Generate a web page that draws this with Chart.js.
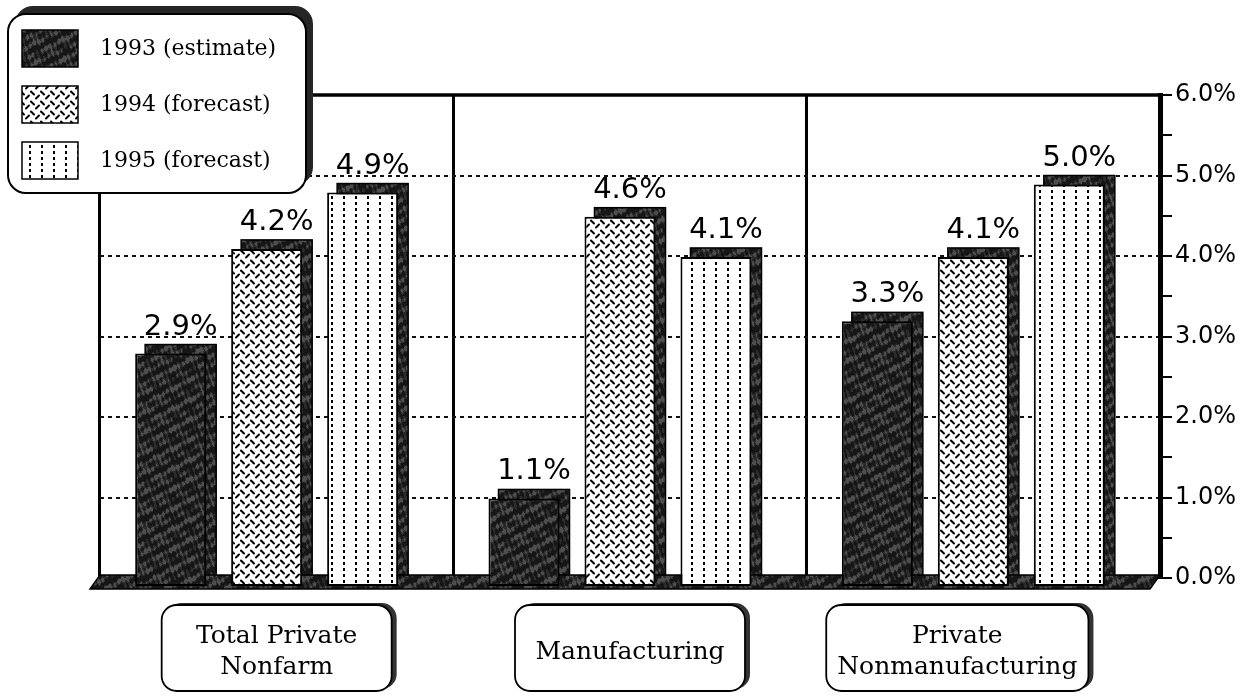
<!DOCTYPE html>
<html><head><meta charset="utf-8">
<script src="https://cdn.jsdelivr.net/npm/chart.js@4.4.1/dist/chart.umd.min.js"></script>
<style>html,body{margin:0;padding:0;background:#fff;overflow:hidden}</style>
</head><body>
<canvas id="c" width="1248" height="696"></canvas>
<script>
// ---- data ----
const categories = [['Total Private', 'Nonfarm'], ['Manufacturing'], ['Private', 'Nonmanufacturing']];
const seriesNames = ['1993 (estimate)', '1994 (forecast)', '1995 (forecast)'];
const values1993 = [2.9, 1.1, 3.3];
const values1994 = [4.2, 4.6, 4.1];
const values1995 = [4.9, 4.1, 5.0];
const yTickValues = [0, 1, 2, 3, 4, 5, 6];

// ---- styles ----
const SERIF = '"DejaVu Serif", "Liberation Serif", serif';
const SANS = '"DejaVu Sans", "Open Sans", sans-serif';
const DEPTH_X = 10, DEPTH_Y = 9;
const LABEL_BOX_SHIFT = [0, 0, -26];

function makeTile(w, h, draw) {
  const c = document.createElement('canvas');
  c.width = w; c.height = h;
  const g = c.getContext('2d');
  draw(g, w, h);
  return document.getElementById('c').getContext('2d').createPattern(c, 'repeat');
}
const darkPattern = makeTile(60, 60, (g, w, h) => {
  const img = g.createImageData(w, h);
  const a = 2 * Math.PI / 60;
  for (let y = 0; y < h; y++) for (let x = 0; x < w; x++) {
    const v = Math.sin(x * a * 2 + 0.6) * Math.cos(y * a * 3 + 0.2)
            + 0.8 * Math.sin((x + 2 * y) * a * 3 + 1.3)
            + 0.6 * Math.sin((3 * x - y) * a * 4 + 2.1)
            + 0.35 * Math.sin((7 * x + 5 * y) * a);
    const c = v > 0.7 ? 78 : (v > -0.2 ? 44 : 22);
    const i = (y * w + x) * 4;
    img.data[i] = img.data[i + 1] = img.data[i + 2] = c; img.data[i + 3] = 255;
  }
  g.putImageData(img, 0, 0);
});
const hatchPattern = makeTile(10, 10, (g, w, h) => {
  g.fillStyle = '#fff'; g.fillRect(0, 0, w, h);
  g.strokeStyle = '#000'; g.lineWidth = 1.9; g.lineCap = 'round';
  g.beginPath(); g.moveTo(1, 1.5); g.lineTo(4, 4.5); g.stroke();
  g.beginPath(); g.moveTo(6, 8.5); g.lineTo(9, 5.5); g.stroke();
});
const dotPattern = makeTile(12, 6, (g, w, h) => {
  g.fillStyle = '#fff'; g.fillRect(0, 0, w, h);
  g.fillStyle = '#000'; g.fillRect(5, 1, 2, 3);
});
const fills = [darkPattern, hatchPattern, dotPattern];

const bar3d = {
  id: 'bar3d',
  beforeDatasetsDraw(chart) {
    const ctx = chart.ctx, a = chart.chartArea;
    ctx.save();
    chart.data.datasets.forEach((ds, di) => {
      chart.getDatasetMeta(di).data.forEach(el => {
        const p = el.getProps(['x', 'y', 'base', 'width'], true);
        ctx.fillStyle = darkPattern;
        ctx.fillRect(p.x - p.width / 2, p.y, p.width, p.base - p.y);
        ctx.strokeStyle = '#000'; ctx.lineWidth = 1.5;
        ctx.strokeRect(p.x - p.width / 2, p.y, p.width, p.base - p.y);
      });
    });
    // floor
    ctx.fillStyle = darkPattern;
    ctx.beginPath();
    ctx.moveTo(a.left, a.bottom - 3);
    ctx.lineTo(a.right, a.bottom - 3);
    ctx.lineTo(a.right - DEPTH_X, a.bottom + DEPTH_Y + 2);
    ctx.lineTo(a.left - DEPTH_X, a.bottom + DEPTH_Y + 2);
    ctx.closePath(); ctx.fill();
    ctx.strokeStyle = '#000'; ctx.lineWidth = 1.5; ctx.stroke();
    // top edge of back wall
    ctx.strokeStyle = '#000'; ctx.lineWidth = 3.5;
    ctx.beginPath(); ctx.moveTo(a.left - 1, a.top); ctx.lineTo(a.right, a.top); ctx.stroke();
    ctx.restore();
  },
  beforeDatasetDraw(chart) { chart.ctx.save(); chart.ctx.translate(-DEPTH_X, DEPTH_Y); },
  afterDatasetDraw(chart) { chart.ctx.restore(); },
  afterDatasetsDraw(chart) {
    const ctx = chart.ctx;
    ctx.save();
    ctx.font = '29px ' + SANS; ctx.fillStyle = '#000';
    ctx.textAlign = 'center'; ctx.textBaseline = 'alphabetic';
    chart.data.datasets.forEach((ds, di) => {
      chart.getDatasetMeta(di).data.forEach((el, i) => {
        const p = el.getProps(['x', 'y'], true);
        ctx.fillText(ds.data[i].toFixed(1) + '%', p.x, p.y - 10);
      });
    });
    ctx.restore();
  },
  afterDraw(chart) {
    const ctx = chart.ctx;
    ctx.save();
    // legend
    const L = {x: 8, y: 14, w: 298, h: 179};
    ctx.fillStyle = '#262626';
    ctx.beginPath(); ctx.roundRect(L.x + 7, L.y - 8, L.w, L.h, 18); ctx.fill();
    ctx.fillStyle = '#fff'; ctx.strokeStyle = '#000'; ctx.lineWidth = 2;
    ctx.beginPath(); ctx.roundRect(L.x, L.y, L.w, L.h, 18); ctx.fill(); ctx.stroke();
    ctx.font = '22px ' + SERIF; ctx.textBaseline = 'middle'; ctx.textAlign = 'left';
    chart.data.datasets.forEach((ds, di) => {
      const sy = 30 + di * 56;
      ctx.fillStyle = fills[di]; ctx.fillRect(22, sy, 56, 37);
      ctx.strokeStyle = '#000'; ctx.lineWidth = 1.5; ctx.strokeRect(22, sy, 56, 37);
      ctx.fillStyle = '#000'; ctx.fillText(ds.label, 100, sy + 19);
    });
    // category label boxes
    const xs = chart.scales.x;
    ctx.font = '25px ' + SERIF; ctx.textAlign = 'center';
    categories.forEach((lab, i) => {
      const lines = Array.isArray(lab) ? lab : [lab];
      const tw = Math.max(...lines.map(t => ctx.measureText(t).width));
      const bw = Math.max(230, tw + 22), bh = 86;
      const cx = xs.getPixelForValue(i) + LABEL_BOX_SHIFT[i];
      const bx = cx - bw / 2, by = 605;
      ctx.fillStyle = '#333';
      ctx.beginPath(); ctx.roundRect(bx + 5, by - 2, bw, bh, 15); ctx.fill();
      ctx.fillStyle = '#fff'; ctx.strokeStyle = '#000'; ctx.lineWidth = 1.8;
      ctx.beginPath(); ctx.roundRect(bx, by, bw, bh, 15); ctx.fill(); ctx.stroke();
      ctx.fillStyle = '#000';
      const mid = by + bh / 2 + 4;
      lines.forEach((t, k) => ctx.fillText(t, cx, mid + (k - (lines.length - 1) / 2) * 31));
    });
    ctx.restore();
  }
};

new Chart(document.getElementById('c'), {
  type: 'bar',
  data: {
    labels: categories,
    datasets: [
      {label: seriesNames[0], data: values1993, backgroundColor: darkPattern},
      {label: seriesNames[1], data: values1994, backgroundColor: hatchPattern},
      {label: seriesNames[2], data: values1995, backgroundColor: dotPattern}
    ]
  },
  options: {
    responsive: false,
    animation: false,
    devicePixelRatio: 1,
    layout: {padding: {left: 100, top: 95, right: 0, bottom: 0}},
    datasets: {bar: {barPercentage: 0.74, categoryPercentage: 0.815, borderColor: '#000', borderWidth: 2, borderSkipped: false}},
    plugins: {legend: {display: false}, tooltip: {enabled: false}},
    scales: {
      x: {
        type: 'category',
        ticks: {display: false},
        grid: {offset: true, color: '#000', lineWidth: 3, drawTicks: false},
        border: {display: false},
        afterFit: s => { s.height = 118; }
      },
      y: {
        position: 'right',
        min: 0, max: 6,
        afterBuildTicks: s => {
          const t = [];
          yTickValues.forEach((v, i) => { t.push({value: v}); if (i < yTickValues.length - 1) t.push({value: v + 0.5}); });
          s.ticks = t;
        },
        ticks: {
          autoSkip: false, padding: 3, color: '#000',
          font: {family: SANS, size: 24},
          callback: v => yTickValues.includes(v) ? v.toFixed(1) + '%' : ''
        },
        grid: {
          color: c => (c.tick && yTickValues.includes(c.tick.value) && c.tick.value > 0 && c.tick.value < 6) ? '#111' : 'rgba(0,0,0,0)',
          lineWidth: 2, tickLength: 12, tickWidth: 2, tickColor: '#000'
        },
        border: {display: true, color: '#000', width: 5, dash: [4, 4]},
        afterFit: s => { s.width = 88; }
      }
    }
  },
  plugins: [bar3d]
});
</script>
</body></html>
